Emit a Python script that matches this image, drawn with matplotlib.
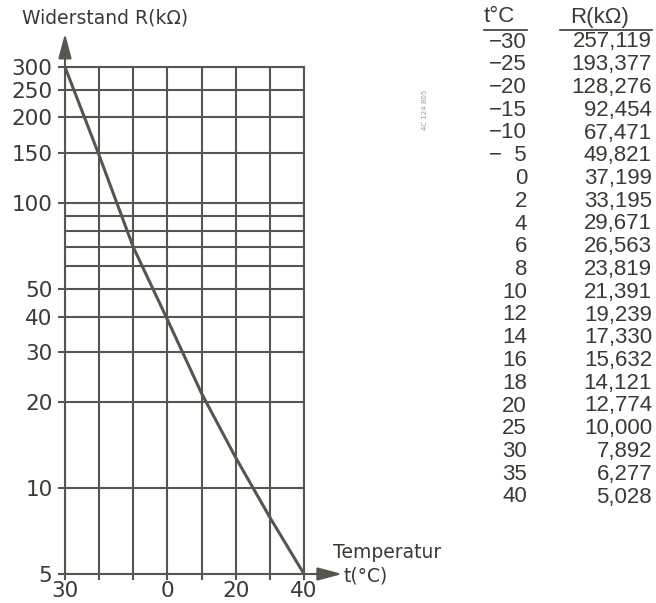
# -*- coding: utf-8 -*-
"""
NTC Kennlinie: Widerstand ueber Temperatur, mit Wertetabelle rechts
"""

# common modules
import numpy
import matplotlib
matplotlib.use("Agg")
import matplotlib.pyplot as plt

# curve (deg C, kOhm)
curve_t = [-30, -20, -10, 0, 10, 20, 30, 40]
curve_r = [300, 147, 70, 39, 21.5, 12.8, 7.9, 5]

# axis ticks
y_major = [5, 10, 20, 30, 40, 50, 100, 150, 200, 250, 300]
y_minor = [60, 70, 80, 90]
x_ticks = [-30, -20, -10, 0, 10, 20, 30, 40]
x_labels = ["30", "", "", "0", "", "20", "", "40"]

# table on the right
table_t = ["\u221230", "\u221225", "\u221220", "\u221215", "\u221210", "\u2212  5",
           "0", "2", "4", "6", "8", "10", "12", "14", "16", "18", "20",
           "25", "30", "35", "40"]
table_r = ["257,119", "193,377", "128,276", "92,454", "67,471", "49,821",
           "37,199", "33,195", "29,671", "26,563", "23,819", "21,391",
           "19,239", "17,330", "15,632", "14,121", "12,774", "10,000",
           "7,892", "6,277", "5,028"]

INK = "#56564f"
TXT = "#3a3a34"
W, H = 656, 603

fig = plt.figure(figsize=(W / 100, H / 100), dpi=100)
fig.patch.set_facecolor("white")
ax = fig.add_axes([65 / W, 29 / H, 239 / W, 507 / H])

ax.set_yscale("log")
ax.set_xlim(-30, 40)
ax.set_ylim(5, 300)

ax.plot(curve_t, curve_r, color=INK, lw=2.2, solid_capstyle="butt", zorder=3,
        clip_on=False)

# ticks / grid
ax.set_yticks(y_major)
ax.set_yticklabels([str(v) for v in y_major])
ax.set_yticks(y_minor, minor=True)
ax.yaxis.set_minor_formatter(matplotlib.ticker.NullFormatter())
ax.set_xticks(x_ticks)
ax.set_xticklabels(x_labels)
ax.grid(True, which="both", color=INK, lw=1.5)
ax.tick_params(axis="y", which="major", length=5, width=1.5, color=INK,
               labelsize=15.5, labelcolor=TXT, pad=4)
ax.tick_params(axis="y", which="minor", length=0)
ax.tick_params(axis="x", length=4, width=1.5, color=INK, labelsize=15.5,
               labelcolor=TXT, pad=1)
for s in ax.spines.values():
    s.set_color(INK)
    s.set_linewidth(1.5)

# arrows on the axes
arrow = dict(arrowstyle="-|>,head_length=0.75,head_width=0.2", color=INK,
             lw=1.5, shrinkA=0, shrinkB=0, mutation_scale=20)
ax.annotate("", xy=(0, 1.066), xytext=(0, 1), xycoords="axes fraction",
            arrowprops=arrow)
ax.annotate("", xy=(1.16, 0), xytext=(1, 0), xycoords="axes fraction",
            arrowprops=arrow)

# axis titles
fig.text(22 / W, 1 - 18 / H, "Widerstand R(k\u03a9)", fontsize=13.5,
         color=TXT, va="center", ha="left")
fig.text(333 / W, 1 - 553 / H, "Temperatur", fontsize=13.5, color=TXT,
         va="center", ha="left")
fig.text(343 / W, 1 - 576 / H, "t(\u00b0C)", fontsize=13.5, color=TXT,
         va="center", ha="left")

# small print code
fig.text(425 / W, 1 - 110 / H, "4C 124 805", fontsize=5, color="#999999",
         rotation=90, va="center", ha="center")

# table
tfont = dict(family="Liberation Sans", fontsize=16, color=TXT, va="center")
fig.text(484 / W, 1 - 17 / H, "t\u00b0C", ha="left", **tfont)
fig.text(570 / W, 1 - 17 / H, "R(k\u03a9)", ha="left", **tfont)
fig.add_artist(plt.Line2D([484 / W, 527 / W], [1 - 30 / H, 1 - 30 / H],
                          color=TXT, lw=1.2))
fig.add_artist(plt.Line2D([560 / W, 652 / W], [1 - 30 / H, 1 - 30 / H],
                          color=TXT, lw=1.2))
row_y = numpy.linspace(42, 497, len(table_t))
for i in range(len(table_t)):
    y = 1 - row_y[i] / H
    fig.text(527 / W, y, table_t[i], ha="right", **tfont)
    fig.text(652 / W, y, table_r[i], ha="right", **tfont)

fig.savefig("out.png", dpi=100)
